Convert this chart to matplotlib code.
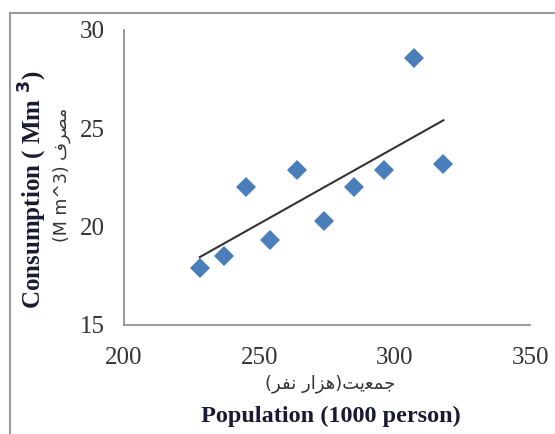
import numpy as np
import matplotlib.pyplot as plt
from matplotlib.patches import Rectangle

# population (1000 person) vs consumption (M m^3)
population = [228, 237, 245, 254, 264, 274, 285, 296, 307, 318]
consumption = [17.9, 18.5, 22.0, 19.3, 22.9, 20.3, 22.0, 22.9, 28.6, 23.2]

x_ticks = [200, 250, 300, 350]
y_ticks = [15, 20, 25, 30]

# Persian text in presentation forms, visual order (matplotlib does no shaping)
fa_x = "(\uFEAE\uFED4\uFEE7 \uFEAD\uFE8D\uFEB0\uFEEB)\uFE96\uFBFE\uFECC\uFEE4\uFE9F"
fa_y = "(M m^3) \uFED1\uFEAE\uFEBC\uFEE3"

fig = plt.figure(figsize=(5.55, 4.34), dpi=100)
ax = fig.add_axes([0.2234, 0.2512, 0.7316, 0.6797])

ax.plot(population, consumption, linestyle='none', marker='D', markersize=10,
        color='#4a7ebb', markeredgewidth=0)

coef = np.polyfit(population, consumption, 1)
xs = np.array([min(population), max(population)])
ax.plot(xs, np.polyval(coef, xs), color='#333333', linewidth=1.5)

ax.set_xlim(200, 350)
ax.set_ylim(15, 30)
ax.set_xticks(x_ticks)
ax.set_yticks(y_ticks)
ax.tick_params(length=0, labelsize=18, colors='#333333')
ax.tick_params(axis='x', pad=16)
ax.tick_params(axis='y', pad=14)
for lab in ax.get_xticklabels() + ax.get_yticklabels():
    lab.set_family('Liberation Serif')
for s in ['top', 'right']:
    ax.spines[s].set_visible(False)
for s in ['left', 'bottom']:
    ax.spines[s].set_color('#888888')
    ax.spines[s].set_linewidth(1.2)

fig.text(0.0595, 0.562, 'Consumption ( Mm $^{\\mathbf{3}}$)', rotation=90,
         ha='center', va='center', fontsize=18, fontweight='bold',
         family='Liberation Serif', color='#1a1a33')
fig.text(0.112, 0.597, fa_y, rotation=90, ha='center', va='center',
         fontsize=12.5, family='DejaVu Sans', color='#333333')
fig.text(0.595, 0.115, fa_x, ha='center', va='center',
         fontsize=13, family='DejaVu Sans', color='#333333')
fig.text(0.596, 0.0415, 'Population (1000 person)', ha='center', va='center',
         fontsize=17.5, fontweight='bold', family='Liberation Serif', color='#1a1a33')

# outer frame
fig.patches.append(Rectangle((10 / 555, -0.1), 1.2, 1 - 13 / 434 + 0.1,
                             transform=fig.transFigure, fill=False,
                             edgecolor='#999999', linewidth=1.5))

plt.savefig('out.png', dpi=100)
